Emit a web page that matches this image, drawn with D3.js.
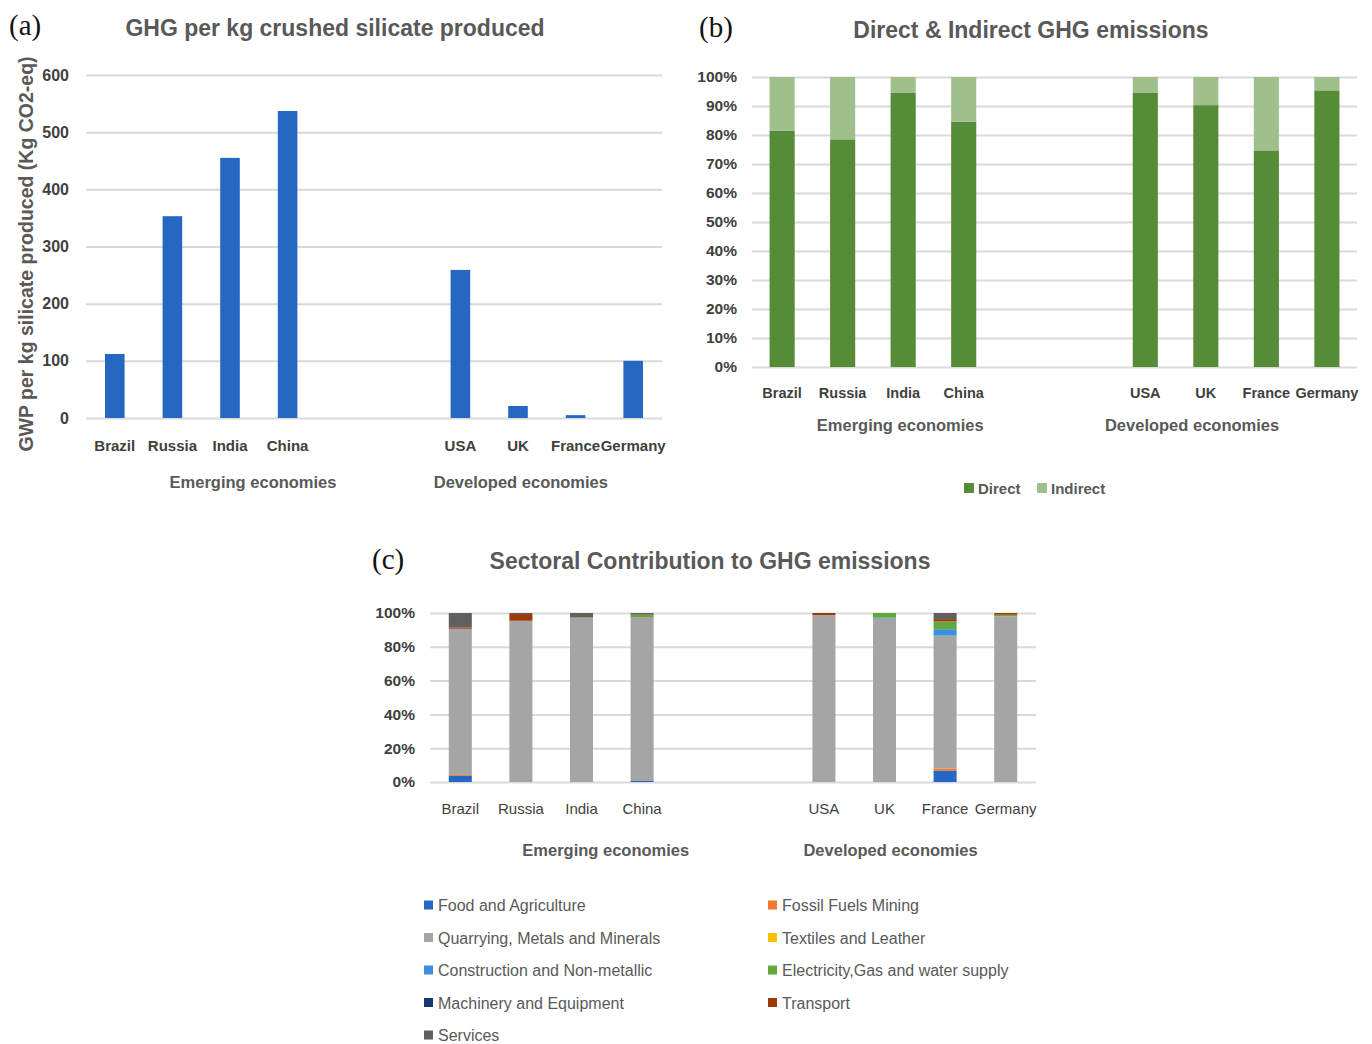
<!DOCTYPE html>
<html><head><meta charset="utf-8">
<script src="https://cdn.jsdelivr.net/npm/d3@7"></script>
<style>
body{margin:0;background:#fff;}
svg{display:block;}
text{font-family:"Liberation Sans",Arial,sans-serif;fill:#595959;}
.serif{font-family:"Liberation Serif","DejaVu Serif",serif;fill:#111;}
</style></head>
<body>
<svg id="c" width="1372" height="1044"></svg>
<script>
// ---------- data ----------
const emerging = ["Brazil","Russia","India","China"];
const developed = ["USA","UK","France","Germany"];
const groupNames = ["Emerging economies","Developed economies"];
const gwp = [112, 353, 455, 537, 259, 21, 5, 100];          // kg CO2-eq per kg
const gwpTicks = [0,100,200,300,400,500,600];
const direct = [0.814, 0.785, 0.945, 0.846, 0.945, 0.903, 0.747, 0.954];
const indirect = direct.map(d => 1 - d);
const pctTicksB = [0,0.1,0.2,0.3,0.4,0.5,0.6,0.7,0.8,0.9,1];
const pctTicksC = [0,0.2,0.4,0.6,0.8,1];
const sectors = ["Food and Agriculture","Fossil Fuels Mining","Quarrying, Metals and Minerals","Textiles and Leather",
  "Construction and Non-metallic","Electricity,Gas and water supply","Machinery and Equipment","Transport","Services"];
const sectorColors = ["#2666c4","#f07a2a","#a5a5a5","#ffc000","#3c8fdc","#62a83c","#17366e","#9e3a0a","#606060"];
// shares (%) per country, in sector order
const foodAgri     = [3.6, 0,   0,    0.6, 0,    0,   6.6, 0];
const fossilFuels  = [0.6, 0,   0,    0,   0,    0,   1.4, 0];
const quarrying    = [86.5,95.4,97.0, 97.0,98.8, 96.7,78.6, 98.0];
const textiles     = [0,   0,   0,    0,   0,    0,   0,   0];
const construction = [0,   0,   0,    0,   0,    0.5, 3.8, 0];
const electricity  = [0,   0,   0.4,  1.2, 0,    2.8, 4.6, 1.0];
const machinery    = [0,   0,   0,    0,   0,    0,   0,   0];
const transport    = [0.8, 4.0, 0,    0.3, 1.2,  0,   1.4, 1.0];
const services     = [8.5, 0.6, 2.6,  0.9, 0,    0,   3.6, 0];
const sectorValues = [foodAgri,fossilFuels,quarrying,textiles,construction,electricity,machinery,transport,services];

// ---------- shared ----------
const countries = emerging.concat(developed);
const slots = emerging.concat(["gap1","gap2"], developed);
const svg = d3.select("#c");
const grid = "#d9d9d9";

function panelLabel(txt, x, y){
  svg.append("text").attr("class","serif").attr("x",x).attr("y",y).attr("font-size",29).text(txt);
}
function title(txt, x, y){
  svg.append("text").attr("x",x).attr("y",y).attr("text-anchor","middle")
    .attr("font-size",23).attr("font-weight","bold").style("fill","#595959").text(txt);
}
function gridAxis(g, y, ticks, x0, x1, fmt, fs, fw, gap){
  const ax = d3.axisLeft(y).tickValues(ticks).tickSize(-(x1-x0)).tickPadding(gap).tickFormat(fmt);
  const a = g.append("g").attr("transform",`translate(${x0},0)`).call(ax);
  a.select(".domain").remove();
  a.selectAll(".tick line").attr("stroke",grid).attr("stroke-width",2);
  a.selectAll(".tick text").attr("font-size",fs).attr("font-weight",fw).style("fill","#404040")
    .style("font-family",'"Liberation Sans",Arial,sans-serif');
}
function catLabels(g, x, yPos, fs, fw){
  g.selectAll(null).data(countries).enter().append("text")
    .attr("x",d=>x(d)+x.bandwidth()/2).attr("y",yPos).attr("text-anchor","middle")
    .attr("font-size",fs).attr("font-weight",fw).style("fill","#404040").text(d=>d);
}
function groupLabels(g, x, yPos, fracs, fs){
  const x0 = x.range()[0], step = x.step();
  groupNames.forEach((n,i)=>{
    g.append("text").attr("x",x0+step*fracs[i]).attr("y",yPos).attr("text-anchor","middle")
      .attr("font-size",fs).attr("font-weight","bold").style("fill","#595959").text(n);
  });
}

// ---------- (a) ----------
{
  const g = svg.append("g");
  const x = d3.scaleBand().domain(slots).range([86,662]).paddingInner(0.66).paddingOuter(0.33);
  const y = d3.scaleLinear().domain([0,600]).range([418,75]);
  gridAxis(g, y, gwpTicks, 86, 662, d3.format("d"), 16, "bold", 17);
  g.selectAll(".bar").data(countries).enter().append("rect")
    .attr("x",d=>x(d)).attr("width",x.bandwidth())
    .attr("y",(d,i)=>y(gwp[i])).attr("height",(d,i)=>y(0)-y(gwp[i])).attr("fill","#2567c1");
  catLabels(g, x, 451, 15, "bold");
  groupLabels(g, x, 488, [2.9, 7.55], 16.5);
  g.append("text").attr("transform","translate(33,254) rotate(-90)").attr("text-anchor","middle")
    .attr("font-size",19.5).attr("font-weight","bold")
    .style("fill","#595959").text("GWP per kg silicate produced (Kg CO2-eq)");
  panelLabel("(a)", 9, 35);
  title("GHG per kg crushed silicate produced", 335, 36);
}

// ---------- (b) ----------
{
  const g = svg.append("g");
  const x = d3.scaleBand().domain(slots).range([752,1357]).paddingInner(0.585).paddingOuter(0.29);
  const y = d3.scaleLinear().domain([0,1]).range([367,77]);
  gridAxis(g, y, pctTicksB, 752, 1357, d3.format(".0%"), 15.5, "bold", 15);
  const stack = countries.map((c,i)=>({c, parts:[[0,direct[i]],[direct[i],direct[i]+indirect[i]]]}));
  const cols = ["#568b37","#9fbf8c"];
  stack.forEach(s=>{
    s.parts.forEach((p,j)=>{
      g.append("rect").attr("x",x(s.c)).attr("width",x.bandwidth())
        .attr("y",y(p[1])).attr("height",y(p[0])-y(p[1])).attr("fill",cols[j]);
    });
  });
  catLabels(g, x, 398, 14.5, "bold");
  groupLabels(g, x, 431, [2.45, 7.27], 16.5);
  const leg = [["Direct",cols[0]],["Indirect",cols[1]]];
  const lx = [964, 1037];
  leg.forEach((l,i)=>{
    g.append("rect").attr("x",lx[i]).attr("y",483).attr("width",10).attr("height",10).attr("fill",l[1]);
    g.append("text").attr("x",lx[i]+14).attr("y",494).attr("font-size",15).attr("font-weight","bold")
      .style("fill","#595959").text(l[0]);
  });
  panelLabel("(b)", 699, 37);
  title("Direct & Indirect GHG emissions", 1031, 38);
}

// ---------- (c) ----------
{
  const g = svg.append("g");
  const x = d3.scaleBand().domain(slots).range([430,1036]).paddingInner(0.62).paddingOuter(0.31);
  const y = d3.scaleLinear().domain([0,1]).range([782,613]);
  gridAxis(g, y, pctTicksC, 430, 1036, d3.format(".0%"), 15.5, "bold", 15);
  const table = countries.map((c,i)=>{ const o={country:c}; sectors.forEach((s,k)=>o[s]=sectorValues[k][i]/100); return o; });
  const series = d3.stack().keys(sectors)(table);
  series.forEach((s,k)=>{
    g.selectAll(null).data(s).enter().append("rect")
      .attr("x",d=>x(d.data.country)).attr("width",x.bandwidth())
      .attr("y",d=>y(d[1])).attr("height",d=>Math.max(0,y(d[0])-y(d[1])))
      .attr("fill",sectorColors[k]);
  });
  catLabels(g, x, 814, 15, "normal");
  groupLabels(g, x, 856, [2.9, 7.6], 16.5);
  sectors.forEach((s,k)=>{
    const col = k%2, row = Math.floor(k/2);
    const lx = col===0 ? 424 : 768, ly = 905.5 + row*32.5;
    g.append("rect").attr("x",lx).attr("y",ly-5).attr("width",9).attr("height",9).attr("fill",sectorColors[k]);
    g.append("text").attr("x",lx+14).attr("y",ly+5.5).attr("font-size",16).style("fill","#595959").text(s);
  });
  panelLabel("(c)", 372, 569);
  title("Sectoral Contribution to GHG emissions", 710, 569);
}
</script>
</body></html>
